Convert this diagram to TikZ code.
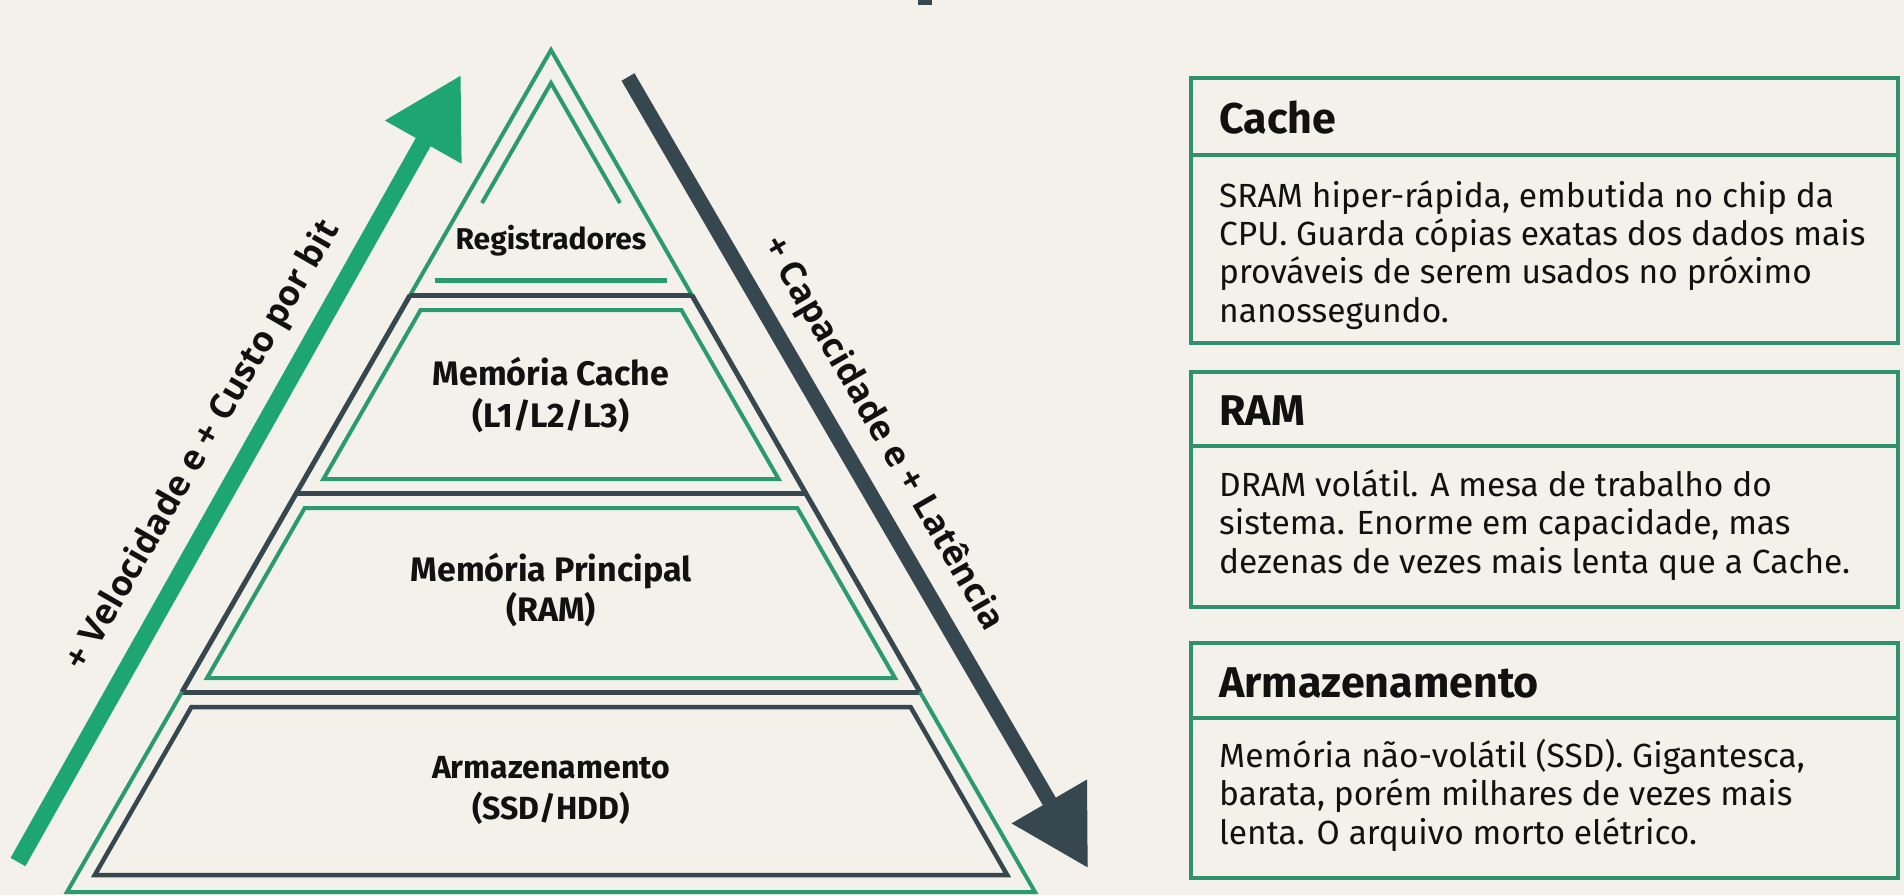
\documentclass[tikz,border=0pt]{standalone}
\usepackage{fontspec}
\setmainfont{Fira Sans}
\newfontfamily\labfont{Open Sans}
\usetikzlibrary{arrows.meta}
\definecolor{bgc}{HTML}{F3F1EA}
\definecolor{arrgreen}{HTML}{1DA573}
\definecolor{lgreen}{HTML}{2B9A70}
\definecolor{boxgreen}{HTML}{2F9170}
\definecolor{darkc}{HTML}{36474F}
\definecolor{txt}{HTML}{111111}
\tikzset{
  gline/.style={draw=lgreen, line width=4pt, line join=miter},
  dline/.style={draw=darkc, line width=5pt, line join=miter},
  tierlabel/.style={text=txt, align=center, inner sep=0pt},
  infobox/.style={draw=boxgreen, line width=4pt},
  boxhead/.style={text=txt, anchor=base west, inner sep=0pt, font=\bfseries\fontsize{43}{46}\selectfont},
  boxbody/.style={text=txt, anchor=base west, align=left, inner sep=0pt, font=\fontsize{33.5}{38.3}\selectfont},
  sidelabel/.style={text=txt, inner sep=0pt, font=\labfont\bfseries\fontsize{35}{40}\selectfont},
}
\begin{document}
\begin{tikzpicture}[x=1pt,y=-1pt]
\fill[bgc] (0,0) rectangle (1904,895);
\useasboundingbox (0,0) rectangle (1904,895);
% cut-off mark at top
\fill[darkc] (918,0) rectangle (932,5);
% ---------- pyramid ----------
% outer triangle, green top part
\draw[gline] (410.2,295) -- (551,50) -- (691.8,295);
% dark middle part
\draw[dline] (410.2,295) -- (296.4,493) -- (182,692);
\draw[dline] (691.8,295) -- (805.6,493) -- (920,692);
\draw[dline] (410.2,295) -- (691.8,295);
\draw[dline] (296.4,493) -- (805.6,493);
\draw[dline] (182,692) -- (920,692);
% green storage outer
\draw[gline] (182,692) -- (67,892) -- (1035,892) -- (920,692);
% tier 1 inner
\draw[gline] (482,203) -- (551,83) -- (620,203);
\draw[gline, line width=5pt] (435,280) -- (667,280);
% tier 2 inner
\draw[gline] (420.6,310) -- (681.4,310) -- (778.6,479) -- (323.4,479) -- cycle;
% tier 3 inner
\draw[gline] (304.7,508) -- (797.3,508) -- (895,678) -- (207,678) -- cycle;
% tier 4 inner (dark)
\draw[dline, line width=4.5pt] (191.4,707) -- (910.6,707) -- (1007.2,875) -- (94.8,875) -- cycle;
% tier labels
\node[tierlabel, font=\bfseries\fontsize{30}{40}\selectfont] (reg) at (551,241) {Registradores};
\node[tierlabel, font=\bfseries\fontsize{34}{42}\selectfont] (cache) at (551,395) {Memória Cache\\(L1/L2/L3)};
\node[tierlabel, font=\bfseries\fontsize{34}{40}\selectfont] (ram) at (551,590) {Memória Principal\\(RAM)};
\node[tierlabel, font=\bfseries\fontsize{32}{41}\selectfont] (arm) at (551,790) {Armazenamento\\(SSD/HDD)};
% ---------- side arrows ----------
\coordinate (gs) at (18,862);
\coordinate (ge) at (461,75);
\coordinate (ds) at (628,77);
\coordinate (de) at (1088,868);
\draw[draw=arrgreen, line width=17pt, -{Triangle[length=77pt,width=83pt]}] (gs) -- (ge);
\draw[draw=darkc, line width=15pt, -{Triangle[length=77pt,width=83pt]}] (ds) -- (de);
\node[sidelabel, rotate=60] (vel) at (204,446) {+ Velocidade e + Custo por bit};
\node[sidelabel, rotate=-60] (cap) at (882,434) {+ Capacidade e + Latência};
% ---------- info boxes ----------
\draw[infobox] (1191,78) rectangle (1898,343);
\draw[infobox] (1191,155) -- (1898,155);
\node[boxhead] (hc) at (1219,133) {Cache};
\node[boxbody] (bc) at (1219,322) {SRAM hiper-rápida, embutida no chip da\\CPU. Guarda cópias exatas dos dados mais\\prováveis de serem usados no próximo\\nanossegundo.};
\draw[infobox] (1191,372) rectangle (1898,607);
\draw[infobox] (1191,446) -- (1898,446);
\node[boxhead] (hr) at (1219,425) {RAM};
\node[boxbody] (br) at (1219,573) {DRAM volátil. A mesa de trabalho do\\sistema. Enorme em capacidade, mas\\dezenas de vezes mais lenta que a Cache.};
\draw[infobox] (1191,643) rectangle (1898,878);
\draw[infobox] (1191,718) -- (1898,718);
\node[boxhead] (ha) at (1219,697) {Armazenamento};
\node[boxbody] (ba) at (1219,844) {Memória não-volátil (SSD). Gigantesca,\\barata, porém milhares de vezes mais\\lenta. O arquivo morto elétrico.};
\end{tikzpicture}
\end{document}
